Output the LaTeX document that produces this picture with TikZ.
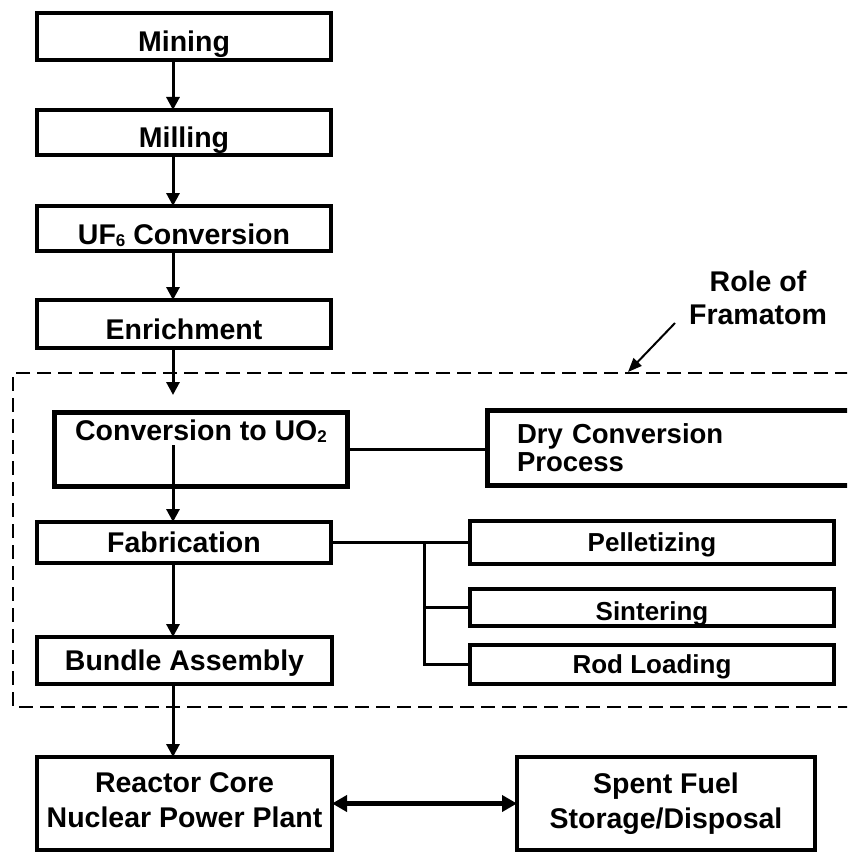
\documentclass[tikz,border=0pt]{standalone}
\usepackage{fontspec}
\setmainfont{Liberation Sans}
\usetikzlibrary{arrows.meta}
\newcommand{\lowsub}[1]{\raisebox{-2.5pt}{\fontsize{17}{17}\selectfont #1}}
\begin{document}
\begin{tikzpicture}[x=1pt,y=-1pt,
  box/.style={draw, line width=4pt, inner sep=0pt, outer sep=0pt,
    font=\fontsize{28.5}{32}\selectfont\bfseries, align=center},
  thickbox/.style={box, line width=5pt},
  subbox/.style={box, font=\fontsize{26}{30}\selectfont\bfseries,
    minimum width=364pt},
  capc/.style={text height=20.4pt, text depth=0pt},
  caplow/.style={text height=31pt, text depth=0pt},
  subc/.style={text height=18.6pt, text depth=0pt},
  sublow/.style={text height=25.6pt, text depth=0pt},
  arr/.style={line width=3pt, -{Triangle[length=13pt,width=13pt]}},
  dblarr/.style={line width=5pt,
    {Triangle[length=15pt,width=16pt]}-{Triangle[length=15pt,width=16pt]}},
  conn/.style={line width=3pt},
  dashbox/.style={line width=2pt, dash pattern=on 14pt off 7pt},
  rolearr/.style={line width=2pt, -{Triangle[length=14pt,width=11pt]}},
  label/.style={inner sep=0pt, font=\fontsize{28.5}{33}\selectfont\bfseries, align=center}
]
\clip (0,0) rectangle (847,853);

% main column
\node[box, caplow, minimum width=294pt, minimum height=47pt] (mining) at (184,36.5) {Mining};
\node[box, caplow, minimum width=294pt, minimum height=45pt] (milling) at (184,132.5) {Milling};
\node[box, caplow, minimum width=294pt, minimum height=45pt] (uf6) at (184,228.5) {UF\lowsub{6} Conversion};
\node[box, caplow, minimum width=294pt, minimum height=48pt] (enr) at (184,324) {Enrichment};
\node[thickbox, text height=20pt, text depth=39pt, minimum width=293pt, minimum height=74pt] (conv) at (201,449.5) {Conversion to UO\lowsub{2}};
\node[box, capc, minimum width=294pt, minimum height=41pt] (fab) at (184,542.5) {Fabrication};
\node[box, capc, minimum width=295pt, minimum height=47pt] (bundle) at (184.5,660.5) {Bundle Assembly};
\node[box, font=\fontsize{28.5}{35}\selectfont\bfseries, minimum width=295pt, minimum height=93pt] (reactor) at (184.5,803.5) {Reactor Core\\[0pt]Nuclear Power Plant\rule[-6pt]{0pt}{6pt}};
\node[box, font=\fontsize{28.5}{35}\selectfont\bfseries, minimum width=298pt, minimum height=93pt] (spent) at (666,803.5) {Spent Fuel\\[0pt]Storage/Disposal};

% right column
\node[thickbox, font=\fontsize{27.5}{28}\selectfont\bfseries, align=left, text width=321pt, inner xsep=29.5pt, minimum height=75pt] (dry) at (677.5,448) {Dry Conversion\\Process};
\node[subbox, subc, minimum height=43pt] (pel) at (652,542.5) {Pelletizing};
\node[subbox, sublow, minimum height=37pt] (sin) at (652,607.5) {Sintering};
\node[subbox, subc, minimum height=39pt] (rod) at (652,664.5) {Rod Loading};

% role label
\node[label] (role) at (758,298) {Role of\\Framatom};

% dashed region
\draw[dashbox] (870,373) -| (13,707) -- (870,707);

% coordinates
\coordinate (ax) at (173,0);
\coordinate (cin) at (173,395);
\coordinate (cout) at (173,445);
\coordinate (bx) at (424,542.5);
\coordinate (rs) at (675,323);
\coordinate (rt) at (628,372);

% arrows
\draw[arr] (ax |- mining.south) -- (ax |- milling.north);
\draw[arr] (ax |- milling.south) -- (ax |- uf6.north);
\draw[arr] (ax |- uf6.south) -- (ax |- enr.north);
\draw[arr] (ax |- enr.south) -- (cin);
\draw[arr] (cout) -- (ax |- fab.north);
\draw[arr] (ax |- fab.south) -- (ax |- bundle.north);
\draw[arr] (ax |- bundle.south) -- (ax |- reactor.north);
\draw[dblarr] (reactor.east) -- (reactor.east -| spent.west);

% connectors
\draw[conn] (conv.east) -- (conv.east -| dry.west);
\draw[conn] (fab.east) -- (pel.west);
\draw[conn] (bx) |- (rod.west);
\draw[conn] (bx |- sin.west) -- (sin.west);

\draw[rolearr] (rs) -- (rt);
\end{tikzpicture}
\end{document}
